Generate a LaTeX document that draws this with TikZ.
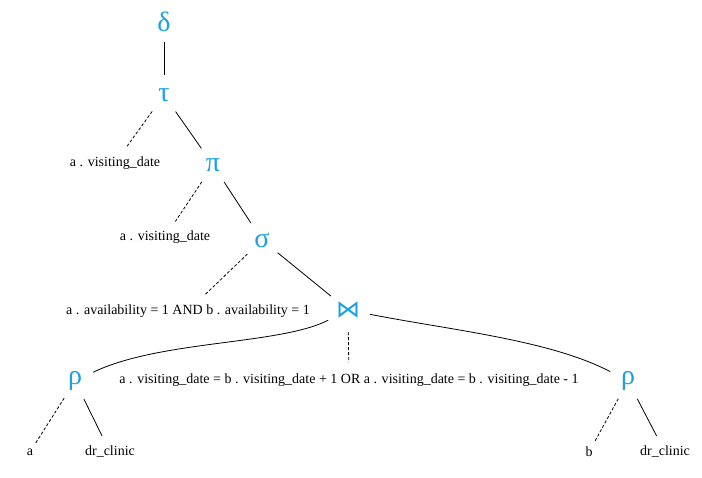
\documentclass[tikz,border=0pt]{standalone}
\usepackage{fontspec}
\setmainfont{Liberation Serif}
\newfontfamily\opsymfont{DejaVu Sans}
\usepackage{tikz}
\definecolor{opblue}{RGB}{27,161,226}

\begin{document}
\begin{tikzpicture}[x=1pt, y=-1pt,
  every node/.style={font=\fontsize{14}{16}\selectfont},
  op/.style={circle, minimum size=40pt, inner sep=0pt, text=opblue, font=\fontsize{28}{30}\selectfont},
  attr/.style={inner xsep=2pt, inner ysep=9pt},
  dashedge/.style={draw, line width=0.8pt, dash pattern=on 3pt off 2pt},
  soledge/.style={draw, line width=0.8pt}]
  \useasboundingbox (0,0) rectangle (702,477);
  % operators
  \node[op] (delta) at (164,22) {δ};
  \node[op] (tau) at (164,95) {τ};
  \node[op] (pi) at (213,165) {π};
  \node[op] (sigma) at (262,240) {σ};
  \node[op, minimum size=44pt, font=\opsymfont\fontsize{24}{26}\selectfont] (join) at (348,310) {⋈};
  \node[op] (rhoL) at (75,381) {ρ};
  \node[op] (rhoR) at (628,381) {ρ};
  % labels
  \node[attr] (tauattr) at (115,163) {a . visiting\_date};
  \node[attr] (piattr) at (165,237) {a . visiting\_date};
  \node[attr] (sigmacond) at (188,311) {a . availability = 1 AND b . availability = 1};
  \node[attr, inner ysep=11pt] (joincond) at (349,380) {a . visiting\_date = b . visiting\_date + 1 OR a . visiting\_date = b . visiting\_date - 1};
  \node[attr, inner ysep=10pt] (aliasL) at (30,452) {a};
  \node[attr, inner ysep=10pt] (relL) at (110,452) {dr\_clinic};
  \node[attr, inner ysep=10pt] (aliasR) at (589,452) {b};
  \node[attr, inner ysep=10pt] (relR) at (665,452) {dr\_clinic};
  % edges
  \path[soledge] (delta) -- (tau);
  \path[dashedge] (tau) -- (tauattr);
  \path[soledge] (tau) -- (pi);
  \path[dashedge] (pi) -- (piattr);
  \path[soledge] (pi) -- (sigma);
  \path[dashedge] (sigma) -- (sigmacond);
  \path[soledge] (sigma) -- (join);
  \path[soledge] (join) .. controls (280,345) and (160,340) .. (rhoL);
  \path[dashedge] (join) -- (joincond);
  \path[soledge] (join) .. controls (450,330) and (550,340) .. (rhoR);
  \path[dashedge] (rhoL) -- (aliasL);
  \path[soledge] (rhoL) -- (relL);
  \path[dashedge] (rhoR) -- (aliasR);
  \path[soledge] (rhoR) -- (relR);
\end{tikzpicture}
\end{document}
